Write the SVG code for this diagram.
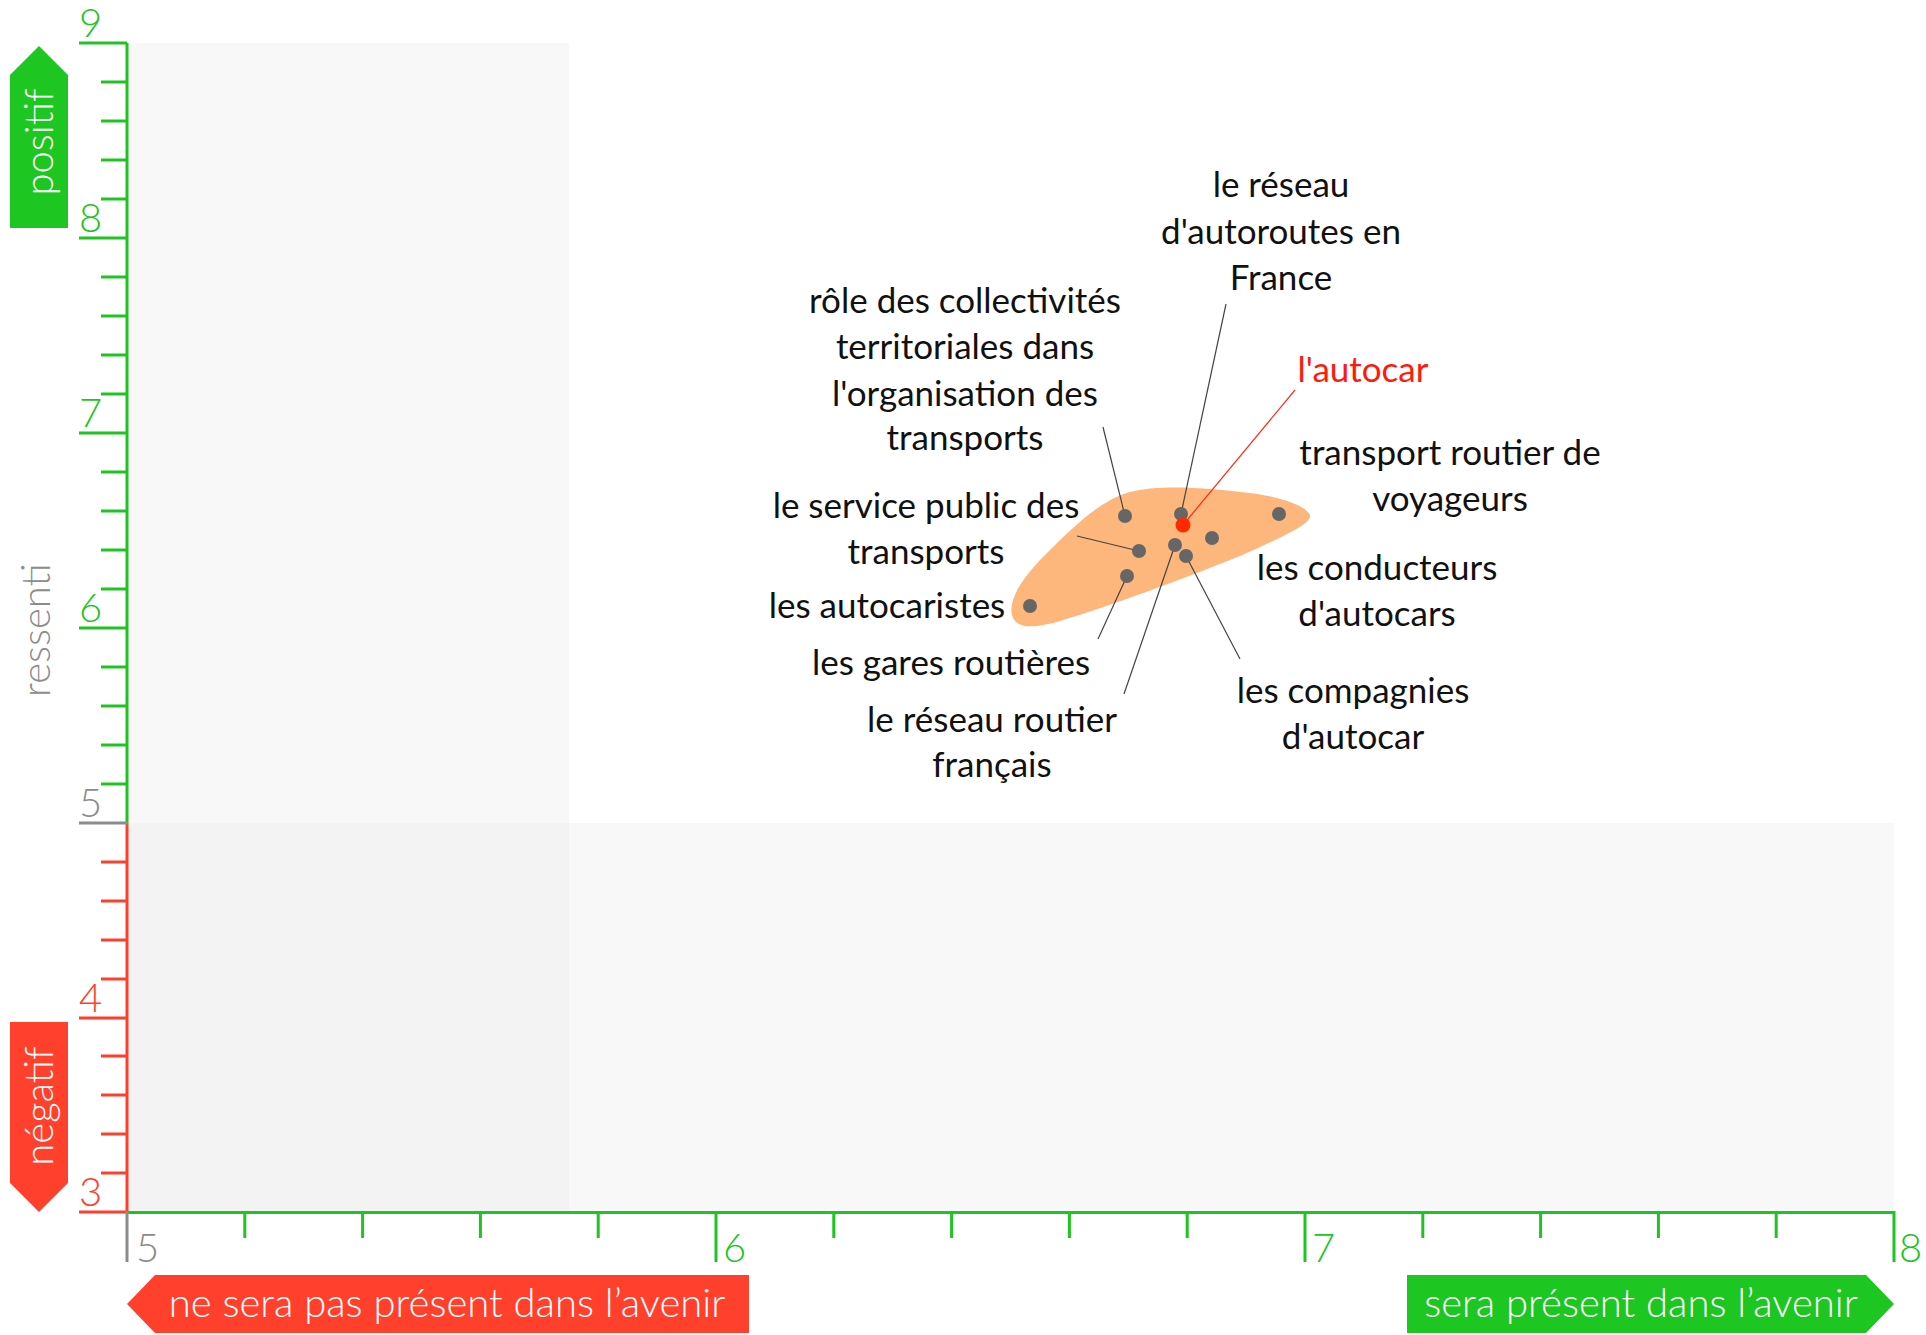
<svg xmlns="http://www.w3.org/2000/svg" width="1926" height="1335" viewBox="0 0 1926 1335">
  <style>
    .g { stroke: #1ec41f; }
    .r { stroke: #ff3f2c; }
    .n { stroke: #8c8c8c; }
    .tick { stroke-width: 3; fill: none; }
    .num { font-family: Lato, "Liberation Sans", sans-serif; font-weight: 300; font-size: 40px; }
    .num-g { fill: #1ec41f; }
    .num-r { fill: #ff3f2c; }
    .num-n { fill: #8c8c8c; }
    .tag { font-family: Lato, "Liberation Sans", sans-serif; font-weight: 300; font-size: 40px; fill: #ffffff; text-anchor: middle; }
    .lbl { font-family: Lato, "Liberation Sans", sans-serif; font-size: 35px; fill: #111111; text-anchor: middle; }
    .dot { fill: #666666; }
    .lead { stroke: #444444; stroke-width: 1.2; fill: none; }
  </style>

  <rect width="1926" height="1335" fill="#ffffff"/>

  <!-- quadrant shading -->
  <g id="quadrants">
    <rect x="127" y="43" width="442" height="780" fill="#f8f8f8"/>
    <rect x="127" y="823" width="442" height="390" fill="#f3f3f3"/>
    <rect x="569" y="823" width="1325" height="390" fill="#f8f8f8"/>
  </g>

  <!-- vertical axis: ressenti -->
  <g id="axis-y" class="tick">
    <line class="g" x1="127" y1="43" x2="127" y2="823"/>
    <line class="r" x1="127" y1="823" x2="127" y2="1213"/>
    <g class="g">
      <line x1="79" y1="43" x2="127" y2="43"/>
      <line x1="101" y1="82" x2="127" y2="82"/>
      <line x1="101" y1="121" x2="127" y2="121"/>
      <line x1="101" y1="160" x2="127" y2="160"/>
      <line x1="101" y1="199" x2="127" y2="199"/>
      <line x1="79" y1="238" x2="127" y2="238"/>
      <line x1="101" y1="277" x2="127" y2="277"/>
      <line x1="101" y1="316" x2="127" y2="316"/>
      <line x1="101" y1="355" x2="127" y2="355"/>
      <line x1="101" y1="394" x2="127" y2="394"/>
      <line x1="79" y1="433" x2="127" y2="433"/>
      <line x1="101" y1="472" x2="127" y2="472"/>
      <line x1="101" y1="511" x2="127" y2="511"/>
      <line x1="101" y1="550" x2="127" y2="550"/>
      <line x1="101" y1="589" x2="127" y2="589"/>
      <line x1="79" y1="628" x2="127" y2="628"/>
      <line x1="101" y1="667" x2="127" y2="667"/>
      <line x1="101" y1="706" x2="127" y2="706"/>
      <line x1="101" y1="745" x2="127" y2="745"/>
      <line x1="101" y1="784" x2="127" y2="784"/>
    </g>
    <line class="n" x1="79" y1="823" x2="128" y2="823"/>
    <g class="r">
      <line x1="101" y1="862" x2="127" y2="862"/>
      <line x1="101" y1="901" x2="127" y2="901"/>
      <line x1="101" y1="940" x2="127" y2="940"/>
      <line x1="101" y1="979" x2="127" y2="979"/>
      <line x1="79" y1="1018" x2="127" y2="1018"/>
      <line x1="101" y1="1056" x2="127" y2="1056"/>
      <line x1="101" y1="1095" x2="127" y2="1095"/>
      <line x1="101" y1="1134" x2="127" y2="1134"/>
      <line x1="101" y1="1173" x2="127" y2="1173"/>
      <line x1="79" y1="1212" x2="127" y2="1212"/>
    </g>
  </g>
  <g id="axis-y-numbers" class="num">
    <text class="num-g" x="79" y="37">9</text>
    <text class="num-g" x="79" y="232">8</text>
    <text class="num-g" x="79" y="427">7</text>
    <text class="num-g" x="79" y="622">6</text>
    <text class="num-n" x="79" y="817">5</text>
    <text class="num-r" x="79" y="1012">4</text>
    <text class="num-r" x="79" y="1206">3</text>
  </g>

  <!-- horizontal axis: avenir -->
  <g id="axis-x" class="tick">
    <line class="g" x1="127" y1="1212.5" x2="1895" y2="1212.5"/>
    <line class="n" x1="127" y1="1211" x2="127" y2="1262"/>
    <g class="g">
      <line x1="244.8" y1="1212" x2="244.8" y2="1238"/>
      <line x1="362.6" y1="1212" x2="362.6" y2="1238"/>
      <line x1="480.4" y1="1212" x2="480.4" y2="1238"/>
      <line x1="598.2" y1="1212" x2="598.2" y2="1238"/>
      <line x1="716" y1="1212" x2="716" y2="1262"/>
      <line x1="833.8" y1="1212" x2="833.8" y2="1238"/>
      <line x1="951.6" y1="1212" x2="951.6" y2="1238"/>
      <line x1="1069.4" y1="1212" x2="1069.4" y2="1238"/>
      <line x1="1187.2" y1="1212" x2="1187.2" y2="1238"/>
      <line x1="1305" y1="1212" x2="1305" y2="1262"/>
      <line x1="1422.8" y1="1212" x2="1422.8" y2="1238"/>
      <line x1="1540.6" y1="1212" x2="1540.6" y2="1238"/>
      <line x1="1658.4" y1="1212" x2="1658.4" y2="1238"/>
      <line x1="1776.2" y1="1212" x2="1776.2" y2="1238"/>
      <line x1="1894" y1="1211" x2="1894" y2="1262"/>
    </g>
  </g>
  <g id="axis-x-numbers" class="num">
    <text class="num-n" x="136" y="1262">5</text>
    <text class="num-g" x="723" y="1262">6</text>
    <text class="num-g" x="1312" y="1262">7</text>
    <text class="num-g" x="1899" y="1262">8</text>
  </g>

  <!-- direction tags -->
  <g id="tag-positif">
    <polygon points="10,75 39,46 68,75 68,228 10,228" fill="#1ec622"/>
    <text class="tag" transform="translate(53,142) rotate(-90)">positif</text>
  </g>
  <g id="tag-negatif">
    <polygon points="10,1022 68,1022 68,1183 39,1212 10,1183" fill="#ff402c"/>
    <text class="tag" transform="translate(53,1106) rotate(-90)">négatif</text>
  </g>
  <g id="tag-ressenti">
    <text class="tag" style="fill:#8c8c8c" transform="translate(50,630) rotate(-90)">ressenti</text>
  </g>
  <g id="tag-absent">
    <polygon points="127,1304 155,1275 749,1275 749,1333 155,1333" fill="#ff402c"/>
    <text class="tag" x="447" y="1317">ne sera pas présent dans l’avenir</text>
  </g>
  <g id="tag-present">
    <polygon points="1407,1275 1866,1275 1894,1304 1866,1333 1407,1333" fill="#1ec622"/>
    <text class="tag" x="1641" y="1317">sera présent dans l’avenir</text>
  </g>

  <!-- cluster hull -->
  <path id="cluster" fill="#fdb67b" d="M1310,515 C1305,505 1280,497 1250,493 C1210,488 1160,484 1130,492 C1100,500 1070,530 1045,555 C1025,575 1008,598 1012,615 C1016,630 1035,628 1060,621 C1110,606 1180,580 1240,556 C1275,540 1312,525 1310,515 Z"/>

  <!-- leader lines -->
  <g id="connectors" class="lead">
    <line x1="1125" y1="516" x2="1103" y2="427"/>
    <line x1="1181" y1="514" x2="1226" y2="304"/>
    <line x1="1183" y1="525" x2="1295" y2="390" style="stroke:#ff2a1a"/>
    <line x1="1139" y1="551" x2="1077" y2="536"/>
    <line x1="1127" y1="576" x2="1098" y2="639"/>
    <line x1="1175" y1="545" x2="1124" y2="694"/>
    <line x1="1186" y1="556" x2="1240" y2="659"/>
  </g>

  <!-- data points with labels -->
  <g id="node-collectivites">
    <circle class="dot" cx="1125" cy="516" r="7"/>
    <text class="lbl" x="965" y="313">rôle des collectivités</text>
    <text class="lbl" x="965" y="359">territoriales dans</text>
    <text class="lbl" x="965" y="406">l'organisation des</text>
    <text class="lbl" x="965" y="450">transports</text>
  </g>
  <g id="node-autoroutes">
    <circle class="dot" cx="1181" cy="514" r="7"/>
    <text class="lbl" x="1281" y="197">le réseau</text>
    <text class="lbl" x="1281" y="244">d'autoroutes en</text>
    <text class="lbl" x="1281" y="290">France</text>
  </g>
  <g id="node-autocar">
    <circle cx="1183" cy="525" r="7.5" fill="#ff2a00"/>
    <text class="lbl" x="1363" y="382" style="fill:#ff1a0a">l'autocar</text>
  </g>
  <g id="node-transport-routier">
    <circle class="dot" cx="1279" cy="514" r="7"/>
    <text class="lbl" x="1450" y="465">transport routier de</text>
    <text class="lbl" x="1450" y="511">voyageurs</text>
  </g>
  <g id="node-conducteurs">
    <circle class="dot" cx="1212" cy="538" r="7"/>
    <text class="lbl" x="1377" y="580">les conducteurs</text>
    <text class="lbl" x="1377" y="626">d'autocars</text>
  </g>
  <g id="node-service-public">
    <circle class="dot" cx="1139" cy="551" r="7"/>
    <text class="lbl" x="926" y="518">le service public des</text>
    <text class="lbl" x="926" y="564">transports</text>
  </g>
  <g id="node-reseau-routier">
    <circle class="dot" cx="1175" cy="545" r="7"/>
    <text class="lbl" x="992" y="732">le réseau routier</text>
    <text class="lbl" x="992" y="777">français</text>
  </g>
  <g id="node-compagnies">
    <circle class="dot" cx="1186" cy="556" r="7"/>
    <text class="lbl" x="1353" y="703">les compagnies</text>
    <text class="lbl" x="1353" y="749">d'autocar</text>
  </g>
  <g id="node-gares">
    <circle class="dot" cx="1127" cy="576" r="7"/>
    <text class="lbl" x="951" y="675">les gares routières</text>
  </g>
  <g id="node-autocaristes">
    <circle class="dot" cx="1030" cy="606" r="7"/>
    <text class="lbl" x="887" y="618">les autocaristes</text>
  </g>
</svg>
